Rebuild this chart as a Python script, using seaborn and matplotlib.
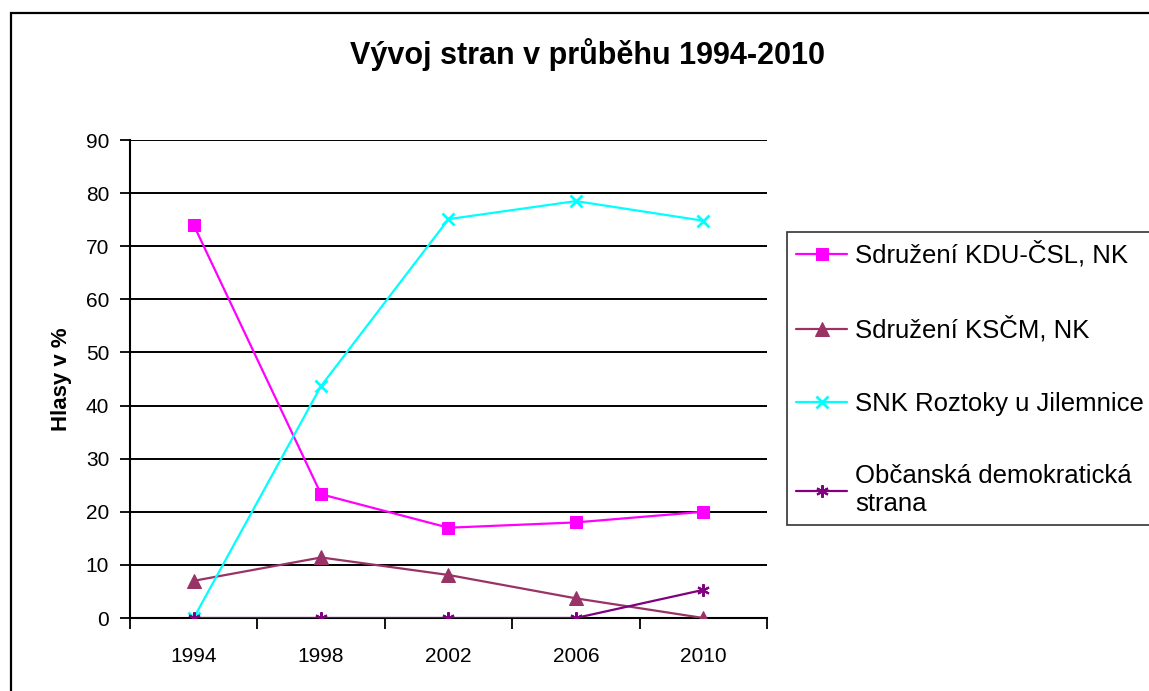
import matplotlib
matplotlib.use("Agg")
import matplotlib.pyplot as plt
import matplotlib.patches as mpatches
import seaborn as sns
import pandas as pd
import numpy as np

years = ["1994", "1998", "2002", "2006", "2010"]
kdu = [74.0, 23.3, 17.0, 18.0, 20.0]
kscm = [7.0, 11.4, 8.1, 3.7, 0.0]
snk = [0.0, 43.7, 75.1, 78.5, 74.8]
ods = [0.0, 0.0, 0.0, 0.0, 5.3]
series_names = ["Sdružení KDU-ČSL, NK", "Sdružení KSČM, NK",
                "SNK Roztoky u Jilemnice", "Občanská demokratická\nstrana"]
title = "Vývoj stran v průběhu 1994-2010"
ylabel = "Hlasy v %"

sns.set_theme(style="white")
plt.rcParams["font.family"] = ["Liberation Sans", "DejaVu Sans"]
plt.rcParams["text.color"] = "black"

fig = plt.figure(figsize=(11.49, 6.91), dpi=100)
ax = fig.add_axes([130/1149, 1-618/691, 637/1149, 478/691])

styles = [
    dict(color="#FF00FF", marker="s", markersize=8.5),
    dict(color="#993366", marker="^", markersize=10),
    dict(color="#00FFFF", marker="x", markersize=8, markeredgewidth=2),
    dict(color="#800080", marker=(6, 2, 0), markersize=9, markeredgewidth=1.5),
]
xs = np.arange(len(years))
for name, vals, st in zip(series_names, [kdu, kscm, snk, ods], styles):
    df = pd.DataFrame({"x": xs, "y": vals})
    mk = dict(st)
    sns.lineplot(data=df, x="x", y="y", ax=ax, label=name, linewidth=1.6,
                 color=mk.pop("color"), markeredgecolor=st["color"],
                 markerfacecolor=st["color"], zorder=3, **mk)

ax.set_xlim(-0.5, len(years) - 0.5)
ax.set_ylim(0, 90)
ax.set_yticks(range(0, 91, 10))
ax.yaxis.grid(True, color="black", linewidth=1.4)
ax.set_axisbelow(True)
ax.set_xticks(xs)
ax.set_xticklabels(years)
ax.set_xticks(np.arange(-0.5, len(years)), minor=True)
ax.tick_params(axis="x", which="major", length=0, pad=21, labelsize=15, colors="black")
ax.tick_params(axis="x", which="minor", length=8, width=1.3, color="black", bottom=True)
ax.tick_params(axis="y", which="major", length=7, width=1.3, color="black", left=True,
               pad=8, labelsize=15, labelcolor="black")
for s in ["top", "right"]:
    ax.spines[s].set_visible(False)
for s in ["left", "bottom"]:
    ax.spines[s].set_color("black")
    ax.spines[s].set_linewidth(1.5)
ax.set_xlabel("")
ax.set_ylabel(ylabel, fontsize=16, fontweight="bold", color="black", labelpad=10)

leg = ax.legend(loc="upper left", bbox_to_anchor=(787/1149, 1-232/691),
                bbox_transform=fig.transFigure, frameon=True, fontsize=18.5,
                labelspacing=1.9, handlelength=2.0, handletextpad=0.3,
                borderpad=0.35, fancybox=False, borderaxespad=0)
leg.get_frame().set_edgecolor("black")
leg.get_frame().set_linewidth(1.2)
for t in leg.get_texts():
    t.set_color("black")
    t.set_linespacing(1.2)

fig.text(587.5/1149, 1-55/691, title, ha="center", va="center",
         fontsize=22, fontweight="bold", color="black")

fig.patches.append(mpatches.Rectangle((11/1149, -0.2), 2.0, 0.2 + 1-13/691,
                                      transform=fig.transFigure, fill=False,
                                      edgecolor="black", linewidth=1.6))

fig.savefig("out.png", dpi=100)
